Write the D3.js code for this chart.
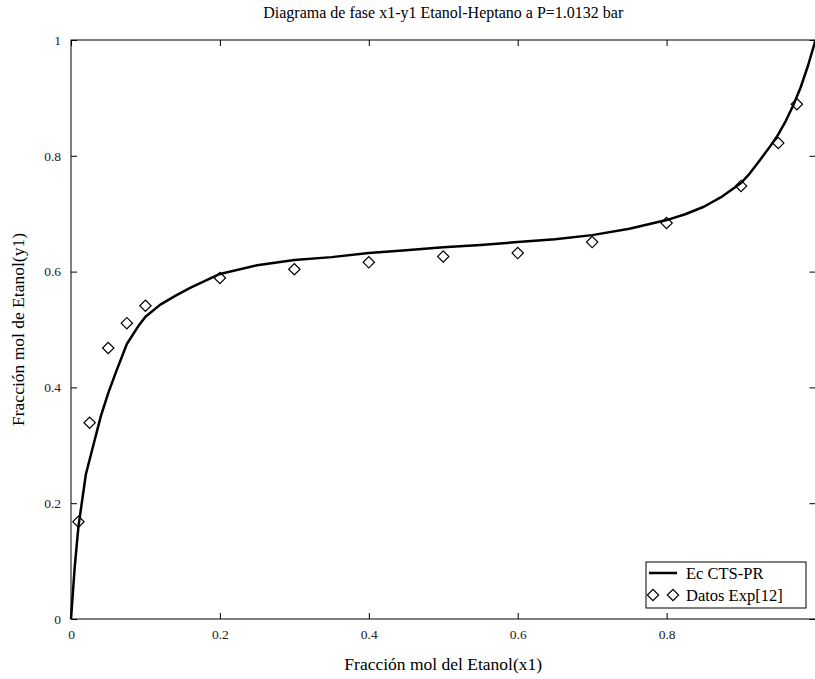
<!DOCTYPE html>
<html>
<head>
<meta charset="utf-8">
<script src="https://cdn.jsdelivr.net/npm/d3@7"></script>
<style>
  html, body { margin: 0; padding: 0; background: #fff; }
  svg { display: block; }
  text { font-family: "Liberation Serif", "Times New Roman", serif; }
</style>
</head>
<body>
<svg id="chart" width="815" height="679"></svg>
<script>
// ---- data ----
const curveX = [0, 0.005, 0.01, 0.02, 0.03, 0.04, 0.05, 0.06, 0.075, 0.09, 0.1, 0.12, 0.14, 0.16, 0.18, 0.2, 0.25, 0.3, 0.35, 0.4, 0.45, 0.5, 0.55, 0.6, 0.65, 0.7, 0.75, 0.8, 0.825, 0.85, 0.875, 0.9, 0.91, 0.925, 0.94, 0.95, 0.96, 0.97, 0.98, 0.99, 1.0];
const curveY = [0, 0.09, 0.16, 0.25, 0.30, 0.35, 0.39, 0.425, 0.475, 0.505, 0.522, 0.543, 0.558, 0.572, 0.584, 0.596, 0.611, 0.620, 0.625, 0.632, 0.637, 0.642, 0.646, 0.651, 0.656, 0.663, 0.674, 0.689, 0.699, 0.712, 0.730, 0.753, 0.767, 0.792, 0.818, 0.837, 0.860, 0.887, 0.918, 0.956, 1.0];
const expX = [0.01, 0.025, 0.05, 0.075, 0.1, 0.2, 0.3, 0.4, 0.5, 0.6, 0.7, 0.8, 0.9, 0.95, 0.975];
const expY = [0.168, 0.339, 0.468, 0.511, 0.541, 0.589, 0.604, 0.616, 0.626, 0.632, 0.651, 0.684, 0.748, 0.822, 0.889];
const xTicks = [0, 0.2, 0.4, 0.6, 0.8, 1];
const xTickLabels = ["0", "0.2", "0.4", "0.6", "0.8", ""];
const yTicks = [0, 0.2, 0.4, 0.6, 0.8, 1];
const yTickLabels = ["0", "0.2", "0.4", "0.6", "0.8", "1"];
const titleText = "Diagrama de fase x1-y1 Etanol-Heptano a P=1.0132 bar";
const xLabel = "Fracción mol del Etanol(x1)";
const yLabel = "Fracción mol de Etanol(y1)";
const legendLabels = ["Ec CTS-PR", "Datos Exp[12]"];

// ---- layout ----
const svg = d3.select("#chart");
const L = 71, R = 815.5, T = 40, B = 619;
const x = d3.scaleLinear().domain([0, 1]).range([L, R]);
const y = d3.scaleLinear().domain([0, 1]).range([B, T]);

// frame
svg.append("rect").attr("x", L).attr("y", T).attr("width", R - L).attr("height", B - T)
  .attr("fill", "none").attr("stroke", "#000").attr("stroke-width", 1);

// axes with inward ticks
const axB = d3.axisBottom(x).tickValues(xTicks).tickSize(-6).tickPadding(10)
  .tickFormat((d, i) => xTickLabels[i]);
const axT = d3.axisTop(x).tickValues(xTicks).tickSize(-6).tickFormat("");
const axLf = d3.axisLeft(y).tickValues(yTicks).tickSize(-6).tickPadding(10)
  .tickFormat((d, i) => yTickLabels[i]);
const axRt = d3.axisRight(y).tickValues(yTicks).tickSize(-6).tickFormat("");

function style(g) {
  g.select(".domain").remove();
  g.selectAll(".tick line").attr("stroke", "#000");
  g.selectAll(".tick text").attr("fill", "#222").style("font-size", "13.5px")
    .style("font-family", "'Liberation Serif', serif");
}
svg.append("g").attr("transform", `translate(0,${B})`).call(axB).call(style);
svg.append("g").attr("transform", `translate(0,${T})`).call(axT).call(style);
svg.append("g").attr("transform", `translate(${L},0)`).call(axLf).call(style);
svg.append("g").attr("transform", `translate(${R},0)`).call(axRt).call(style);

// curve
const curveData = curveX.map((v, i) => [v, curveY[i]]);
svg.append("path").datum(curveData)
  .attr("fill", "none").attr("stroke", "#000").attr("stroke-width", 2.5)
  .attr("stroke-linejoin", "round")
  .attr("d", d3.line().x(d => x(d[0])).y(d => y(d[1])).curve(d3.curveLinear));

// diamonds
const diamond = d3.symbol().type(d3.symbolSquare).size(64);
const expData = expX.map((v, i) => [v, expY[i]]);
svg.append("g").selectAll("path").data(expData).join("path")
  .attr("d", diamond)
  .attr("transform", d => `translate(${x(d[0])},${y(d[1])}) rotate(45)`)
  .attr("fill", "none").attr("stroke", "#000").attr("stroke-width", 1.2);

// title and labels
svg.append("text").attr("x", (L + R) / 2).attr("y", 18).attr("text-anchor", "middle")
  .style("font-size", "16px").attr("fill", "#000").text(titleText);
svg.append("text").attr("x", (L + R) / 2).attr("y", 670).attr("text-anchor", "middle")
  .style("font-size", "17.5px").attr("fill", "#000").text(xLabel);
svg.append("text").attr("transform", `translate(24,${(T + B) / 2}) rotate(-90)`)
  .attr("text-anchor", "middle").style("font-size", "17.5px").attr("fill", "#000").text(yLabel);

// legend
const lg = svg.append("g");
const lx = 646, ly = 562, lw = 160, lh = 46;
lg.append("rect").attr("x", lx).attr("y", ly).attr("width", lw).attr("height", lh)
  .attr("fill", "#fff").attr("stroke", "#000").attr("stroke-width", 1);
lg.append("line").attr("x1", lx + 3).attr("x2", lx + 31).attr("y1", ly + 11).attr("y2", ly + 11)
  .attr("stroke", "#000").attr("stroke-width", 2.5);
lg.append("text").attr("x", lx + 40).attr("y", ly + 17).style("font-size", "16.5px").text(legendLabels[0]);
[lx + 7, lx + 27].forEach(cx => {
  lg.append("path").attr("d", diamond)
    .attr("transform", `translate(${cx},${ly + 33}) rotate(45)`)
    .attr("fill", "none").attr("stroke", "#000").attr("stroke-width", 1.2);
});
lg.append("text").attr("x", lx + 40).attr("y", ly + 39).style("font-size", "16.5px").text(legendLabels[1]);
</script>
</body>
</html>
